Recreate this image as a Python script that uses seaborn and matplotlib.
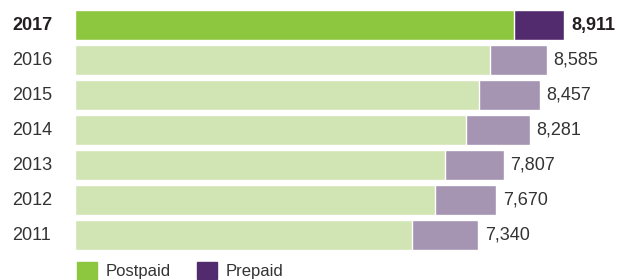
# Postpaid / prepaid subscribers by year, stacked horizontal bars

import pandas as pd
import matplotlib.pyplot as plt
import seaborn as sns
from matplotlib.patches import Patch
from matplotlib.transforms import blended_transform_factory

years = ['2017', '2016', '2015', '2014', '2013', '2012', '2011']
postpaid = [7983, 7546, 7346, 7111, 6741, 6545, 6126]
totals = [8911, 8585, 8457, 8281, 7807, 7670, 7340]
prepaid = [t - p for t, p in zip(totals, postpaid)]

post_cols = {y: '#d1e4b3' for y in years}
pre_cols = {y: '#a594b2' for y in years}
post_cols['2017'] = '#8dc63f'
pre_cols['2017'] = '#522a6e'

df = pd.DataFrame({'year': years, 'postpaid': postpaid,
                   'prepaid': prepaid, 'total': totals})

sns.set_style('white')
plt.rcParams['font.family'] = ['Liberation Sans', 'DejaVu Sans']
txt = '#333333'

fig = plt.figure(figsize=(6.25, 2.8), dpi=100)
ax = fig.add_axes([75 / 625, 27.5 / 280, 550 / 625, 245 / 280])

# total bar in prepaid colour, postpaid drawn on top of it
sns.barplot(data=df, x='total', y='year', hue='year', order=years,
            palette=pre_cols, legend=False, width=0.86, saturation=1, ax=ax)
sns.barplot(data=df, x='postpaid', y='year', hue='year', order=years,
            palette=post_cols, legend=False, width=0.86, saturation=1, ax=ax)

ax.set_xlim(0, 550 / 0.05493)
ax.set_ylim(6.5, -0.5)
ax.set_xlabel('')
ax.set_ylabel('')
ax.set_xticks([])
sns.despine(ax=ax, left=True, bottom=True)

ax.tick_params(axis='y', length=0, pad=0)
ax.set_yticklabels([])
trans = blended_transform_factory(fig.transFigure, ax.transData)
for i, (y, t) in enumerate(zip(years, totals)):
    bold = y == '2017'
    ax.text(12 / 625, i, y, transform=trans, ha='left', va='center',
            fontsize=13, color='#231f20' if bold else txt,
            fontweight='bold' if bold else 'normal')
    ax.text(t + 120, i, f'{t:,}', ha='left', va='center', fontsize=13,
            color='#231f20' if bold else txt,
            fontweight='bold' if bold else 'normal')

handles = [Patch(color='#8dc63f', label='Postpaid'),
           Patch(color='#522a6e', label='Prepaid')]
fig.legend(handles=handles, loc='lower left', bbox_to_anchor=(62 / 625, -0.05),
           ncol=2, frameon=False, fontsize=12, handlelength=1.2,
           handleheight=1.2, handletextpad=0.5, columnspacing=1.6,
           labelcolor=txt)

plt.savefig('out.png', dpi=100)
